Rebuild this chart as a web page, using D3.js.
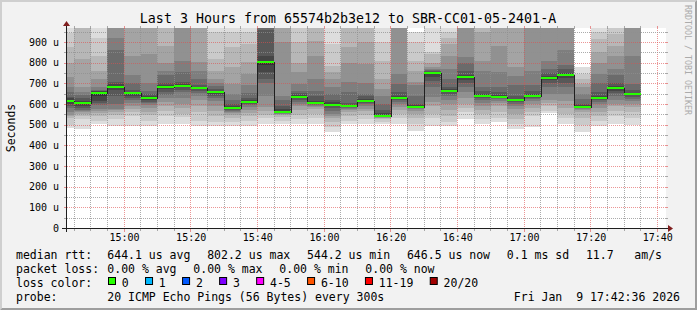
<!DOCTYPE html>
<html><head><meta charset="utf-8">
<script src="https://cdn.jsdelivr.net/npm/d3@7"></script>
<style>
body{margin:0;background:#f2f2f2;}
svg text{font-family:"DejaVu Sans Mono",monospace;white-space:pre;}
</style>
</head><body>
<svg id="c" width="697" height="310"></svg>
<script>
// ---------- data ----------
const title = "Last 3 Hours from 65574b2b3e12 to SBR-CC01-05-2401-A";
const startTimes = ["14:40","14:45","14:50","14:55","15:00","15:05","15:10","15:15","15:20","15:25",
  "15:30","15:35","15:40","15:45","15:50","15:55","16:00","16:05","16:10","16:15",
  "16:20","16:25","16:30","16:35","16:40","16:45","16:50","16:55","17:00","17:05",
  "17:10","17:15","17:20","17:25","17:30"];
const medians = [616,606,655,682,655,629,682,687,677,658,580,609,802,561,635,606,597,590,616,544,
  629,587,751,664,731,639,634,621,639,727,742,587,629,677,646.5];
const lossCounts = [0,0,0,0,0,0,0,0,0,0,0,0,0,0,0,0,0,0,0,0,0,0,0,0,0,0,0,0,0,0,0,0,0,0,0];
// 20 sorted ping rtts (microseconds) per 5-minute step
const pings = [
 [482,500,531,540,547,560,579,590,600,610,620,630,635,660,684,732,800,877,942,1000],
 [479,527,540,551,560,564,570,580,590,600,610,615,630,645,660,680,818,990,1030,1100],
 [503,520,540,555,568,578,595,605,615,640,658,662,664,668,680,720,761,830,920,990],
 [495,525,545,560,572,578,600,640,670,682,688,695,705,860,920,1000,1050,1100,1200,1300],
 [495,540,560,575,590,605,620,630,640,650,655,660,670,700,740,834,980,1000,1050,1100],
 [495,520,545,560,580,595,605,612,620,628,632,640,650,664,700,842,990,1020,1060,1100],
 [503,540,568,590,610,630,645,660,672,680,686,690,700,740,761,800,880,990,1050,1100],
 [503,535,552,580,600,630,656,670,680,686,690,695,705,753,810,990,1020,1060,1100,1200],
 [495,519,560,590,620,640,655,665,672,677,680,684,690,720,760,802,990,1020,1060,1100],
 [495,515,540,565,590,615,630,640,650,656,660,665,672,685,700,720,760,820,950,1000],
 [495,515,530,545,555,562,568,572,576,579,582,590,600,620,650,697,777,874,950,990],
 [495,519,540,556,570,585,595,600,605,609,612,620,628,655,690,745,802,890,950,990],
 [503,530,548,565,584,640,700,721,753,790,810,830,960,1000,1050,1100,1150,1200,1250,1300],
 [503,520,535,545,550,553,555,557,559,561,565,575,590,620,640,900,990,1050,1100,1150],
 [503,525,545,570,590,600,610,620,628,633,637,645,652,665,697,753,800,900,970,1000],
 [503,530,550,575,585,592,597,600,603,605,608,615,640,664,721,834,905,990,1030,1100],
 [463,490,515,530,540,552,565,580,590,595,600,610,620,650,680,720,753,785,890,980],
 [503,520,540,560,570,575,580,584,587,589,592,596,605,660,705,800,874,990,1030,1100],
 [503,525,545,565,575,590,600,605,610,614,618,625,640,648,700,793,900,990,1030,1100],
 [503,515,525,530,534,537,539,541,542,543,546,555,570,600,640,672,720,810,900,980],
 [503,530,550,570,585,600,610,618,623,627,632,640,660,697,745,980,1010,1050,1100,1150],
 [471,505,530,550,565,575,580,584,586,587,590,595,600,640,690,705,760,810,900,950],
 [495,530,552,590,610,632,680,710,730,745,752,755,760,765,770,777,800,842,850,990],
 [495,511,540,570,600,620,640,650,658,662,666,672,680,720,769,830,890,920,950,990],
 [527,560,580,600,630,656,680,700,715,728,735,740,760,800,826,980,1010,1050,1100,1150],
 [503,527,550,570,590,605,620,630,636,639,642,648,665,680,760,810,950,990,1030,1100],
 [511,530,560,590,605,615,622,628,632,634,637,642,660,680,753,880,990,1030,1060,1100],
 [479,503,527,552,575,590,600,608,614,618,622,626,640,690,735,777,990,1030,1060,1100],
 [487,540,560,580,600,615,625,630,635,638,642,648,665,690,761,990,1020,1050,1100,1150],
 [555,565,590,605,620,650,680,700,715,724,729,735,750,769,810,990,1020,1050,1100,1150],
 [503,530,552,580,615,650,680,700,725,738,744,750,770,790,860,990,1020,1050,1100,1150],
 [463,500,530,560,570,576,580,583,585,587,590,594,600,625,650,680,697,720,745,777],
 [495,520,540,560,580,600,610,618,623,627,632,640,660,700,745,800,850,914,950,990],
 [503,540,565,590,600,620,640,655,665,673,680,685,700,740,769,830,880,940,990,1020],
 [498,530,560,585,600,615,625,635,642,646,650,655,670,697,834,990,1020,1050,1100,1150]
];
const yTicks = [0,100,200,300,400,500,600,700,800,900];
const yTickLabels = ["0","100 u","200 u","300 u","400 u","500 u","600 u","700 u","800 u","900 u"];
const yLabel = "Seconds";
const rowLabels = ["median rtt:","packet loss:","loss color:","probe:"];
const rttStats = ["644.1 us avg","802.2 us max","544.2 us min","646.5 us now","0.1 ms sd","11.7   am/s"];
const lossStats = ["0.00 % avg","0.00 % max","0.00 % min","0.00 % now"];
const lossLabels = ["0","1","2","3","4-5","6-10","11-19","20/20"];
const lossMin = [0,1,2,3,4,6,11,20];
const lossColors = ["#26ff00","#00b8ff","#0059ff","#7e00ff","#ff00ff","#ff5500","#ff0000","#a10000"];
const probeText = "20 ICMP Echo Pings (56 Bytes) every 300s";
const dateText = "Fri Jan  9 17:42:36 2026";
const watermark = "RRDTOOL / TOBI OETIKER";

// ---------- layout ----------
const W=697,H=310, X0=66, X1=666, Y0=228, Y1=28;
const svg=d3.select("#c");
const day=(h,m,s)=>new Date(Date.UTC(2026,0,9,h,m,s||0));
const parse=s=>{const p=s.split(":").map(Number);return day(p[0],p[1]);};
const tStart=day(14,42,36), tEnd=day(17,42,36);
const x=d3.scaleUtc().domain([tStart,tEnd]).range([X0,X1]);
const y=d3.scaleLinear().domain([0,967.7]).range([Y0,Y1]);
const plus5=t=>new Date(+t+300000);

// background + 3D frame
svg.append("rect").attr("width",W).attr("height",H).attr("fill","#f2f2f2");
svg.append("polygon").attr("points",`0,${H} 2,${H-2} 2,2 ${W-2},2 ${W},0 0,0`).attr("fill","#cfcfcf");
svg.append("polygon").attr("points",`${W-2},2 ${W-2},${H-2} 2,${H-2} 0,${H} ${W},${H} ${W},0`).attr("fill","#9e9e9e");

// canvas
svg.append("rect").attr("x",X0).attr("y",Y1).attr("width",X1-X0).attr("height",Y0-Y1).attr("fill","#ffffff");
svg.append("clipPath").attr("id","clip").append("rect").attr("x",X0).attr("y",Y1).attr("width",X1-X0).attr("height",Y0-Y1);
const plot=svg.append("g").attr("clip-path","url(#clip)").attr("shape-rendering","crispEdges");

// smoke
const half=10;
pings.forEach((p,c)=>{
  const ts=parse(startTimes[c]);
  const xa=Math.round(x(ts)), xb=Math.round(x(plus5(ts)));
  for(let i=1;i<=half;i++){
    const g=Math.floor(190/half*(half-i))+50;
    const lo=p[i-1], hi=p[p.length-i];
    const ya=Math.round(y(hi)), yb=Math.round(y(lo));
    plot.append("rect").attr("x",xa).attr("width",xb-xa).attr("y",ya).attr("height",Math.max(0,yb-ya))
      .attr("fill",d3.rgb(g,g,g).formatHex());
  }
});

// grid (on top) - dotted lines drawn as 1px dots
const grid=svg.append("g").attr("shape-rendering","crispEdges");
const gridCol="#8f8f8f", gridOp=0.75, mgridCol="#de4f4f", mgridOp=0.6;
function dotsV(px,col,op){
  for(let yy=Y1;yy<Y0;yy+=2) grid.append("rect").attr("x",px).attr("y",yy).attr("width",1).attr("height",1).attr("fill",col).attr("fill-opacity",op);
}
function dotsH(py,col,op){
  for(let xx=X0+1;xx<X1;xx+=2) grid.append("rect").attr("x",xx).attr("y",py).attr("width",1).attr("height",1).attr("fill",col).attr("fill-opacity",op);
}
const gridTimes=[];
for(let ms=Math.ceil(+tStart/300000)*300000; ms<+tEnd; ms+=300000) gridTimes.push(new Date(ms));
gridTimes.forEach(t=>{
  const major=t.getUTCMinutes()%20===0;
  const px=Math.floor(x(t)+0.01), col=major?mgridCol:gridCol, op=major?mgridOp:gridOp;
  dotsV(px,col,op);
  grid.append("rect").attr("x",px).attr("y",Y1-2).attr("width",1).attr("height",2).attr("fill",col).attr("fill-opacity",op);
  grid.append("rect").attr("x",px).attr("y",Y0+1).attr("width",1).attr("height",major?3:2).attr("fill",col).attr("fill-opacity",op);
});
d3.range(50,967,50).forEach(v=>{
  const major=v%100===0;
  const py=Math.round(y(v)), col=major?mgridCol:gridCol, op=major?mgridOp:gridOp;
  dotsH(py,col,op);
  grid.append("rect").attr("x",X0-2).attr("y",py).attr("width",2).attr("height",1).attr("fill",col).attr("fill-opacity",op);
  grid.append("rect").attr("x",X1).attr("y",py).attr("width",2).attr("height",1).attr("fill",col).attr("fill-opacity",op);
});

// median line
const medG=svg.append("g").attr("clip-path","url(#clip)").attr("shape-rendering","crispEdges");
const pts=[];
medians.forEach((m,c)=>{
  const ts=parse(startTimes[c]);
  const ym=Math.round(y(m))+0.5;
  pts.push([Math.round(x(ts)),ym],[Math.round(x(plus5(ts))),ym]);
});
medG.append("path").attr("d",d3.line()(pts)).attr("fill","none").attr("stroke","#202020").attr("stroke-width",1);
medians.forEach((m,c)=>{
  const ts=parse(startTimes[c]);
  let k=0; lossMin.forEach((lm,i)=>{if(lossCounts[c]>=lm)k=i;});
  const ym=Math.round(y(m));
  medG.append("rect").attr("x",Math.round(x(ts))).attr("width",Math.round(x(plus5(ts)))-Math.round(x(ts)))
    .attr("y",ym-1).attr("height",2).attr("fill",lossColors[k]);
});

// axes lines + arrows
const axisCol="#1f1f1f", arrowCol="#801f1f";
svg.append("line").attr("x1",X0-4).attr("x2",X1+4).attr("y1",Y0+0.5).attr("y2",Y0+0.5).attr("stroke",axisCol);
svg.append("line").attr("x1",X0+0.5).attr("x2",X0+0.5).attr("y1",Y0+4).attr("y2",Y1-4).attr("stroke",axisCol);
svg.append("polygon").attr("points",`${X1+2},${Y0-3} ${X1+2},${Y0+4} ${X1+7},${Y0+0.5}`).attr("fill",arrowCol);
svg.append("polygon").attr("points",`${X0-3},${Y1-2} ${X0+4},${Y1-2} ${X0+0.5},${Y1-7}`).attr("fill",arrowCol);

// tick labels through d3 axes
const xa=svg.append("g").attr("transform",`translate(0,${Y0})`)
  .call(d3.axisBottom(x).ticks(d3.utcMinute.every(20)).tickFormat(d3.utcFormat("%H:%M")).tickSize(0).tickPadding(6));
xa.select(".domain").remove();
xa.selectAll("text").attr("font-size","10px").attr("fill","#000").attr("font-family","DejaVu Sans Mono");
const ya=svg.append("g").attr("transform",`translate(${X0},0)`)
  .call(d3.axisLeft(y).tickValues(yTicks).tickFormat((d,i)=>yTickLabels[i]).tickSize(0).tickPadding(7));
ya.select(".domain").remove();
ya.selectAll("text").attr("font-size","10px").attr("fill","#000").attr("font-family","DejaVu Sans Mono");

// title, y label, watermark
svg.append("text").attr("x",348).attr("y",23.3).attr("text-anchor","middle").attr("font-size","13.3px").text(title);
svg.append("text").attr("transform","translate(15,128) rotate(-90)").attr("text-anchor","middle").attr("font-size","11.5px").text(yLabel);
svg.append("text").attr("transform","translate(684.5,60) rotate(90)").attr("text-anchor","middle").attr("font-size","8.3px").attr("fill","#ababab").text(watermark);

// legend
const fs=11.5, cw=6.94, gap=16.6, lx=107.3;
const rows=[258.5,272.5,286.5,300.5];
rowLabels.forEach((t,i)=>svg.append("text").attr("x",16).attr("y",rows[i]).attr("font-size",fs+"px").text(t));
let px=lx;
rttStats.forEach(t=>{svg.append("text").attr("x",px).attr("y",rows[0]).attr("font-size",fs+"px").text(t);px+=t.length*cw+gap;});
px=lx;
lossStats.forEach(t=>{svg.append("text").attr("x",px).attr("y",rows[1]).attr("font-size",fs+"px").text(t);px+=t.length*cw+gap;});
px=108.5;
lossLabels.forEach((t,i)=>{
  svg.append("rect").attr("x",px).attr("y",277.5).attr("width",7).attr("height",7).attr("fill",lossColors[i]).attr("stroke","#000");
  svg.append("text").attr("x",px+13.3).attr("y",rows[2]).attr("font-size",fs+"px").text(t);
  px+=30.1+t.length*cw;
});
svg.append("text").attr("x",lx).attr("y",rows[3]).attr("font-size",fs+"px").text(probeText);
svg.append("text").attr("x",680).attr("y",rows[3]).attr("text-anchor","end").attr("font-size",fs+"px").text(dateText);
</script>
</body></html>
